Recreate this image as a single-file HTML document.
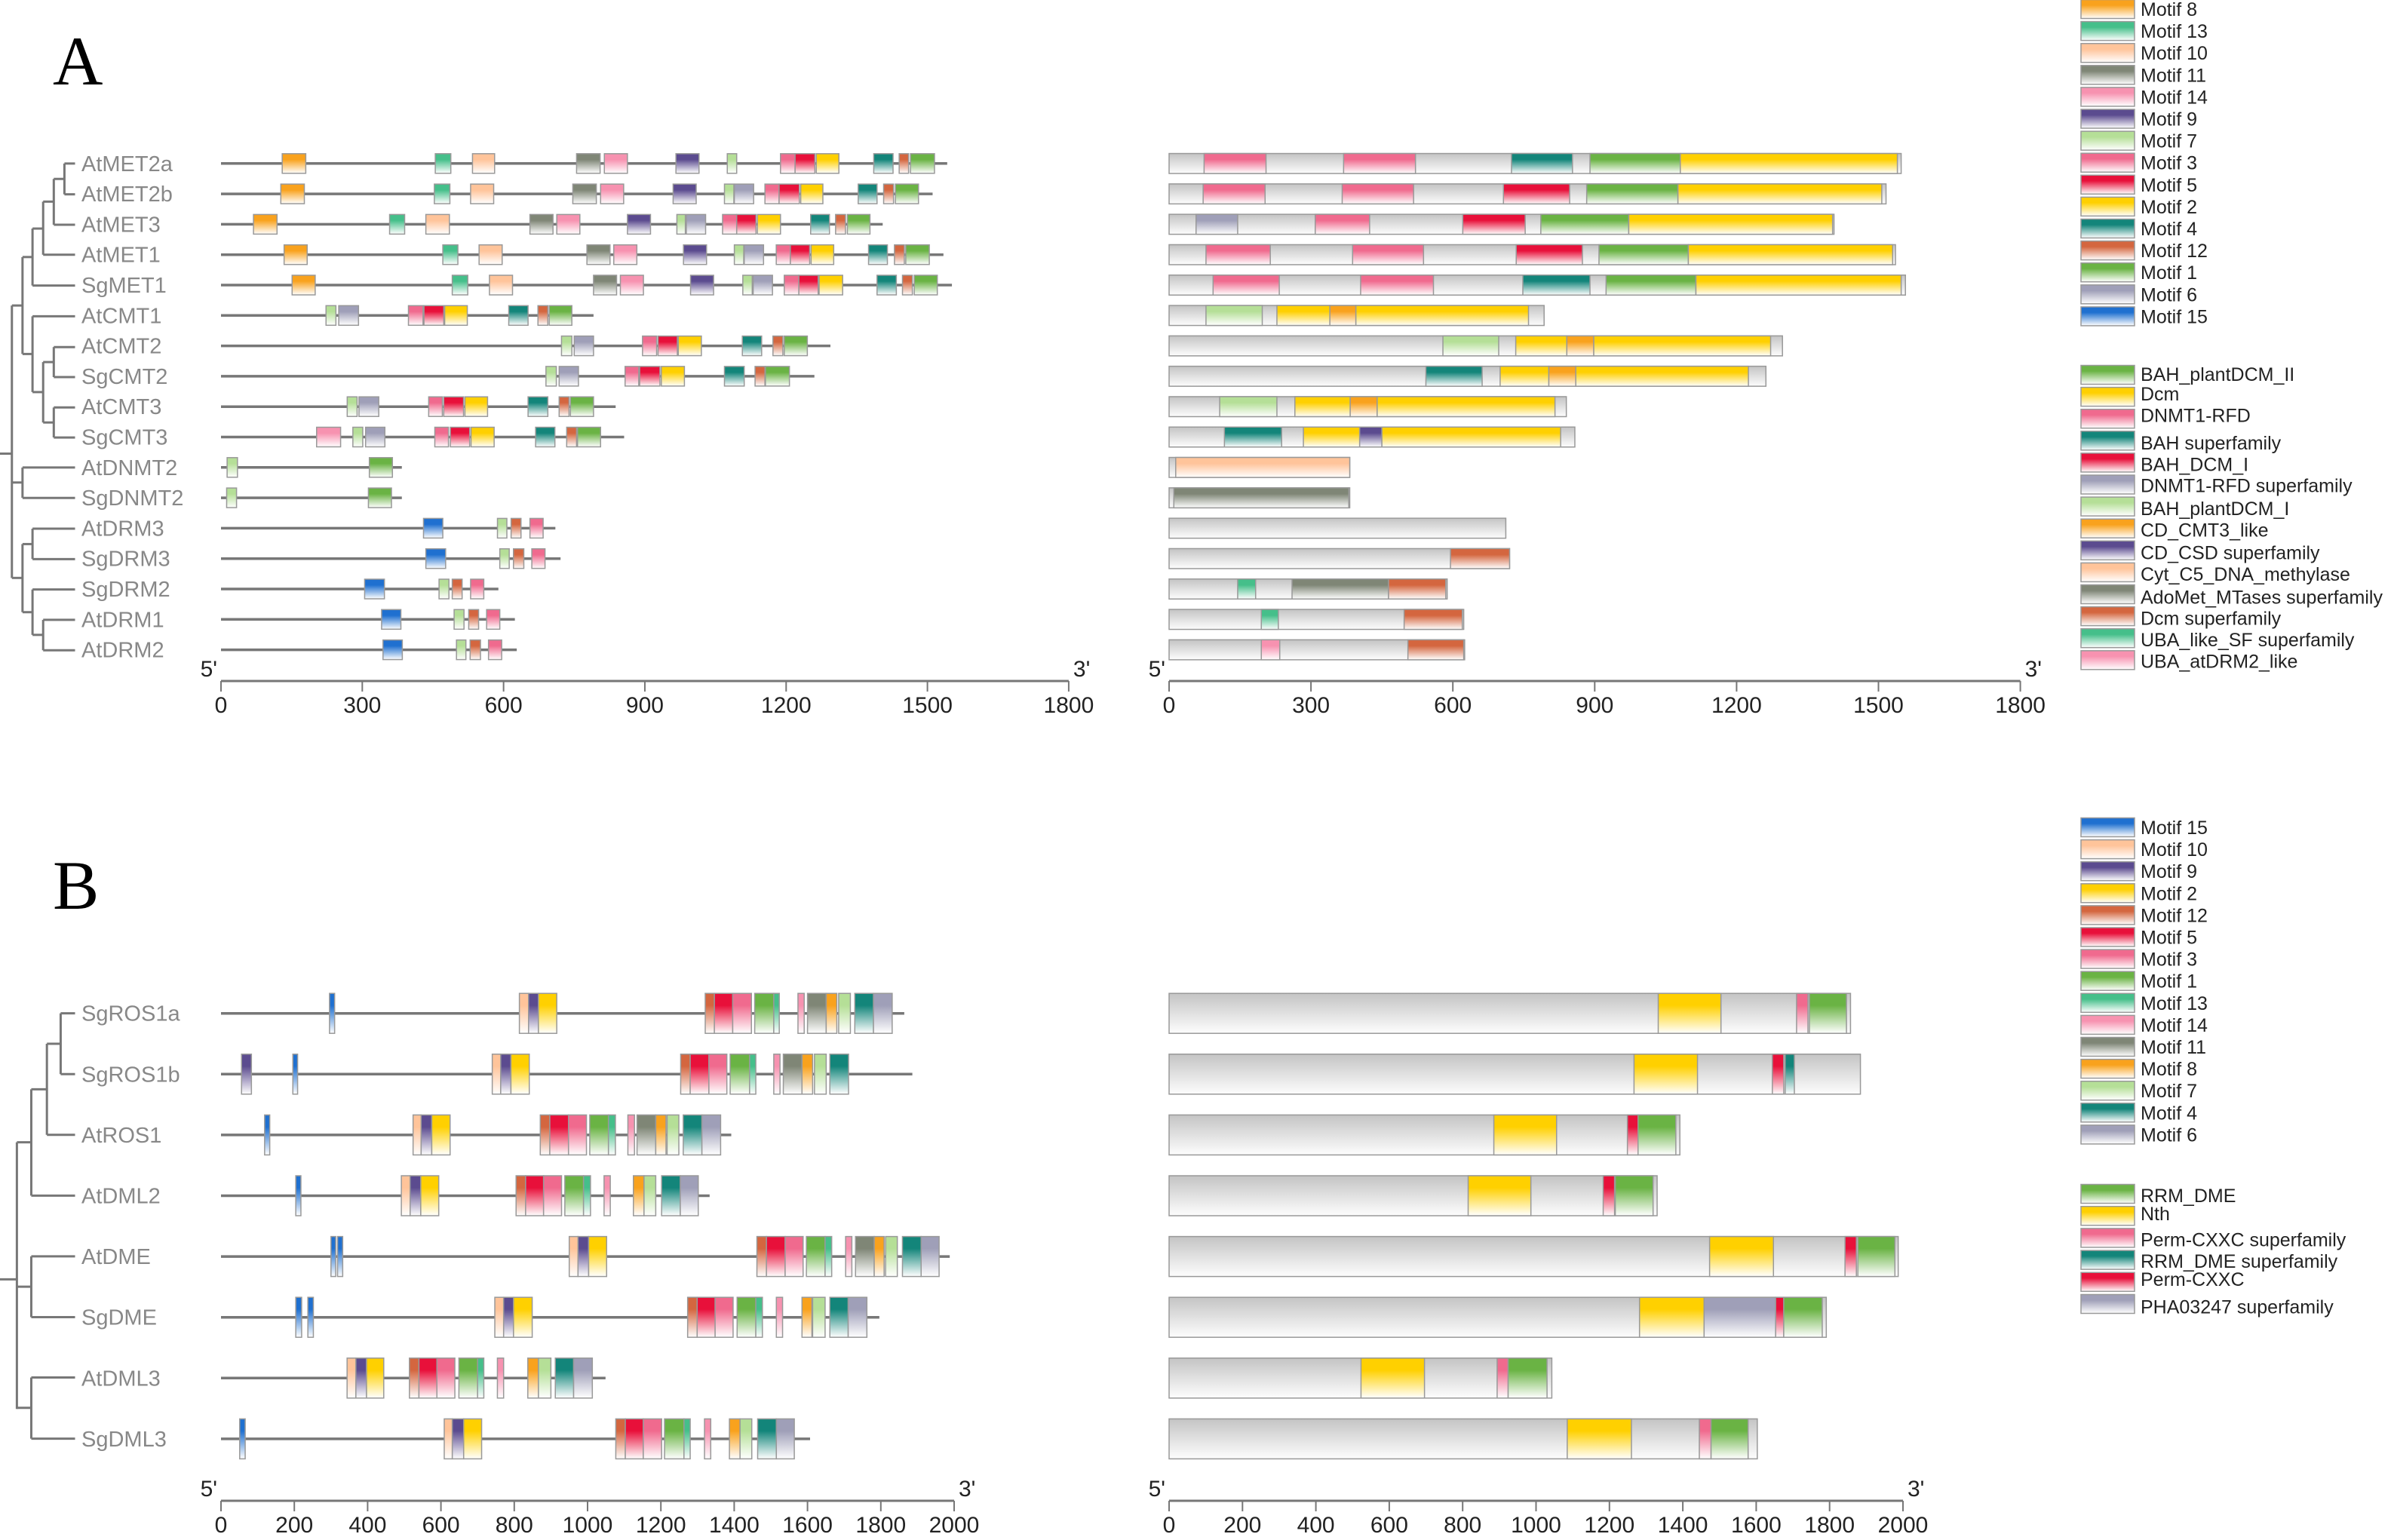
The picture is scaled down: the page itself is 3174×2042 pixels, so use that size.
<!DOCTYPE html>
<html><head><meta charset="utf-8"><style>
html,body{margin:0;padding:0;background:#fff;}
svg{display:block;}
text{font-family:"Liberation Sans",Arial,sans-serif;}
</style></head><body>
<svg id="fig" width="3174" height="2042" viewBox="0 0 3174 2042" xmlns="http://www.w3.org/2000/svg">
<defs id="defs"></defs>
<text x="70" y="112" font-size="92" fill="#000" style="font-family:'Liberation Serif',serif">A</text>
<text x="70" y="1205" font-size="92" fill="#000" style="font-family:'Liberation Serif',serif">B</text>
<g id="treeA" transform="translate(0,150) scale(0.8292,0.5102)" stroke="#777" stroke-width="3" fill="none"></g>
<g id="treeB" transform="translate(0,1270) scale(0.8292,0.4912)" stroke="#777" stroke-width="3" fill="none"></g>
<g id="main"></g>
</svg>
<script>
const motifColors = {1:'#6ab344',2:'#ffd000',3:'#f06a8e',4:'#13857a',5:'#e8103a',6:'#9f9fb8',7:'#b5df97',8:'#f9a21d',9:'#5b4b8f',10:'#ffc49a',11:'#7f8676',12:'#d4663f',13:'#45bf8a',14:'#f792b0',15:'#1f70d0'};
const domainColorsA = {'BAH_plantDCM_II':'#6ab344','Dcm':'#ffd000','DNMT1-RFD':'#f06a8e','BAH superfamily':'#13857a','BAH_DCM_I':'#e8103a','DNMT1-RFD superfamily':'#9f9fb8','BAH_plantDCM_I':'#b5df97','CD_CMT3_like':'#f9a21d','CD_CSD superfamily':'#5b4b8f','Cyt_C5_DNA_methylase':'#ffc49a','AdoMet_MTases superfamily':'#7f8676','Dcm superfamily':'#d4663f','UBA_like_SF superfamily':'#45bf8a','UBA_atDRM2_like':'#f792b0'};
const domainColorsB = {'RRM_DME':'#6ab344','Nth':'#ffd000','Perm-CXXC superfamily':'#f06a8e','RRM_DME superfamily':'#13857a','Perm-CXXC':'#e8103a','PHA03247 superfamily':'#9f9fb8'};

const genesA = ['AtMET2a','AtMET2b','AtMET3','AtMET1','SgMET1','AtCMT1','AtCMT2','SgCMT2','AtCMT3','SgCMT3','AtDNMT2','SgDNMT2','AtDRM3','SgDRM3','SgDRM2','AtDRM1','AtDRM2'];
const lengthsA = [1542,1511,1405,1534,1552,791,1294,1260,838,856,384,384,710,721,589,624,628];
const motifsA = [
 [[8,130,180],[13,455,488],[10,534,581],[11,755,805],[14,814,863],[9,966,1015],[7,1075,1095],[3,1188,1219],[5,1219,1261],[2,1264,1312],[4,1386,1427],[12,1440,1460],[1,1464,1515]],
 [[8,127,177],[13,453,486],[10,530,579],[11,747,797],[14,806,855],[9,960,1009],[7,1069,1089],[6,1090,1131],[3,1155,1185],[5,1185,1228],[2,1231,1278],[4,1353,1393],[12,1407,1428],[1,1432,1481]],
 [[8,69,119],[13,358,390],[10,435,485],[11,656,705],[14,713,762],[9,863,912],[7,968,986],[6,988,1029],[3,1065,1095],[5,1095,1136],[2,1139,1188],[4,1252,1292],[12,1305,1326],[1,1330,1378]],
 [[8,134,183],[13,471,503],[10,548,597],[11,777,826],[14,834,883],[9,982,1031],[7,1090,1110],[6,1111,1152],[3,1179,1209],[5,1209,1250],[2,1253,1301],[4,1375,1415],[12,1430,1451],[1,1454,1504]],
 [[8,151,200],[13,491,524],[10,570,619],[11,791,840],[14,848,897],[9,997,1046],[7,1108,1128],[6,1130,1171],[3,1196,1227],[5,1227,1268],[2,1270,1320],[4,1393,1434],[12,1447,1468],[1,1472,1521]],
 [[7,223,244],[6,250,292],[3,398,429],[5,431,473],[2,475,523],[4,611,652],[12,673,694],[1,697,745]],
 [[7,723,745],[6,750,791],[3,895,925],[5,928,969],[2,971,1020],[4,1107,1148],[12,1172,1193],[1,1196,1245]],
 [[7,690,712],[6,718,759],[3,858,887],[5,889,932],[2,935,984],[4,1069,1111],[12,1134,1155],[1,1156,1207]],
 [[7,268,289],[6,293,335],[3,441,470],[5,473,515],[2,518,566],[4,652,694],[12,718,739],[1,742,791]],
 [[14,203,254],[7,280,301],[6,307,348],[3,454,483],[5,487,528],[2,531,580],[4,668,709],[12,734,755],[1,757,806]],
 [[7,13,35],[1,315,364]],
 [[7,12,33],[1,313,362]],
 [[15,430,471],[7,587,607],[12,616,637],[3,656,684]],
 [[15,435,477],[7,592,612],[12,621,643],[3,660,688]],
 [[15,305,347],[7,463,484],[12,491,512],[3,530,558]],
 [[15,341,382],[7,495,516],[12,526,547],[3,564,592]],
 [[15,344,385],[7,500,520],[12,529,551],[3,568,596]]
];
const protLenA = [1548,1516,1406,1536,1557,793,1297,1262,840,858,382,382,712,720,588,623,625];
const domainsA = [
 [['DNMT1-RFD',74,205],['DNMT1-RFD',369,521],['BAH superfamily',724,853],['BAH_plantDCM_II',890,1081],['Dcm',1081,1540]],
 [['DNMT1-RFD',72,203],['DNMT1-RFD',366,517],['BAH_DCM_I',707,847],['BAH_plantDCM_II',883,1076],['Dcm',1076,1507]],
 [['DNMT1-RFD superfamily',57,145],['DNMT1-RFD',309,424],['BAH_DCM_I',621,753],['BAH_plantDCM_II',786,972],['Dcm',972,1403]],
 [['DNMT1-RFD',78,214],['DNMT1-RFD',388,538],['BAH_DCM_I',734,874],['BAH_plantDCM_II',909,1098],['Dcm',1098,1530]],
 [['DNMT1-RFD',93,233],['DNMT1-RFD',405,559],['BAH superfamily',748,890],['BAH_plantDCM_II',924,1114],['Dcm',1114,1548]],
 [['BAH_plantDCM_I',78,197],['Dcm',228,340],['CD_CMT3_like',340,395],['Dcm',395,760]],
 [['BAH_plantDCM_I',579,697],['Dcm',733,841],['CD_CMT3_like',841,898],['Dcm',898,1272]],
 [['BAH superfamily',543,662],['Dcm',700,803],['CD_CMT3_like',803,860],['Dcm',860,1225]],
 [['BAH_plantDCM_I',107,228],['Dcm',266,383],['CD_CMT3_like',383,440],['Dcm',440,816]],
 [['BAH superfamily',117,238],['Dcm',284,403],['CD_CSD superfamily',403,450],['Dcm',450,828]],
 [['Cyt_C5_DNA_methylase',14,382]],
 [['AdoMet_MTases superfamily',10,380]],
 [],
 [['Dcm superfamily',595,720]],
 [['UBA_like_SF superfamily',145,183],['AdoMet_MTases superfamily',260,464],['Dcm superfamily',464,585]],
 [['UBA_like_SF superfamily',195,231],['Dcm superfamily',497,620]],
 [['UBA_atDRM2_like',195,234],['Dcm superfamily',505,623]]
];

const genesB = ['SgROS1a','SgROS1b','AtROS1','AtDML2','AtDME','SgDME','AtDML3','SgDML3'];
const lengthsB = [1864,1886,1392,1333,1988,1796,1049,1607];
const motifsB = [
 [[15,296,310],[10,814,839],[9,839,866],[2,866,916],[12,1321,1346],[5,1346,1396],[3,1396,1447],[1,1456,1508],[13,1508,1523],[14,1574,1591],[11,1600,1651],[8,1651,1680],[7,1685,1717],[4,1729,1780],[6,1780,1831]],
 [[9,56,83],[15,196,209],[10,740,763],[9,763,791],[2,791,841],[12,1254,1280],[5,1280,1331],[3,1331,1380],[1,1389,1442],[13,1442,1459],[14,1508,1525],[11,1534,1585],[8,1585,1614],[7,1619,1651],[4,1661,1712]],
 [[15,119,133],[10,524,546],[9,546,575],[2,575,625],[12,871,897],[5,897,948],[3,948,997],[1,1006,1057],[13,1057,1076],[14,1110,1128],[11,1135,1186],[8,1186,1214],[7,1217,1249],[4,1261,1312],[6,1312,1363]],
 [[15,204,218],[10,492,516],[9,516,545],[2,545,594],[12,805,831],[5,831,880],[3,880,929],[1,938,989],[13,989,1008],[14,1045,1062],[8,1125,1154],[7,1154,1186],[4,1202,1253],[6,1253,1302]],
 [[15,300,313],[15,318,332],[10,950,974],[9,974,1003],[2,1003,1052],[12,1462,1488],[5,1488,1539],[3,1539,1588],[1,1597,1648],[13,1648,1666],[14,1704,1721],[11,1731,1782],[8,1782,1809],[7,1813,1845],[4,1859,1910],[6,1910,1959]],
 [[15,204,220],[15,237,252],[10,747,771],[9,771,798],[2,798,849],[12,1273,1299],[5,1299,1348],[3,1348,1397],[1,1408,1459],[13,1459,1477],[14,1515,1532],[8,1585,1612],[7,1614,1648],[4,1661,1711],[6,1711,1762]],
 [[10,344,368],[9,368,397],[2,397,444],[12,514,540],[5,540,589],[3,589,638],[1,649,700],[13,700,717],[14,754,771],[8,837,866],[7,866,900],[4,912,962],[6,962,1013]],
 [[15,51,66],[10,609,631],[9,631,662],[2,662,711],[12,1077,1103],[5,1103,1152],[3,1152,1202],[1,1210,1263],[13,1263,1280],[14,1319,1336],[8,1387,1416],[7,1416,1448],[4,1464,1515],[6,1515,1564]]
];
const protLenB = [1857,1884,1392,1330,1987,1791,1043,1603];
const domainsB = [
 [['Nth',1333,1504],['Perm-CXXC superfamily',1710,1741],['RRM_DME',1745,1846]],
 [['Nth',1267,1440],['Perm-CXXC',1644,1675],['RRM_DME superfamily',1679,1704]],
 [['Nth',885,1056],['Perm-CXXC',1249,1278],['RRM_DME',1278,1381]],
 [['Nth',815,986],['Perm-CXXC',1183,1214],['RRM_DME',1216,1319]],
 [['Nth',1473,1647],['Perm-CXXC',1842,1873],['RRM_DME',1877,1978]],
 [['Nth',1282,1458],['PHA03247 superfamily',1458,1653],['Perm-CXXC',1653,1675],['RRM_DME',1675,1780]],
 [['Nth',523,696],['Perm-CXXC superfamily',894,924],['RRM_DME',924,1030]],
 [['Nth',1085,1260],['Perm-CXXC superfamily',1445,1477],['RRM_DME',1477,1578]]
];
const ticksA = [0,300,600,900,1200,1500,1800];
const ticksB = [0,200,400,600,800,1000,1200,1400,1600,1800,2000];
const legendMotifsA = [8,13,10,11,14,9,7,3,5,2,4,12,1,6,15];
const legendDomainsA = ['BAH_plantDCM_II','Dcm','DNMT1-RFD','BAH superfamily','BAH_DCM_I','DNMT1-RFD superfamily','BAH_plantDCM_I','CD_CMT3_like','CD_CSD superfamily','Cyt_C5_DNA_methylase','AdoMet_MTases superfamily','Dcm superfamily','UBA_like_SF superfamily','UBA_atDRM2_like'];
const legendMotifsB = [15,10,9,2,12,5,3,1,13,14,11,8,7,4,6];
const legendDomainsB = ['RRM_DME','Nth','Perm-CXXC superfamily','RRM_DME superfamily','Perm-CXXC','PHA03247 superfamily'];

const NS='http://www.w3.org/2000/svg';
const svg=document.getElementById('main');
const defs=document.getElementById('defs');
function mk(tag,attrs,parent){const e=document.createElementNS(NS,tag);for(const k in attrs)e.setAttribute(k,attrs[k]);(parent||svg).appendChild(e);return e;}
const gradIds={};
function grad(color){
  if(gradIds[color])return gradIds[color];
  const id='g'+Object.keys(gradIds).length;
  const lg=mk('linearGradient',{id:id,x1:0,y1:0,x2:0,y2:1},defs);
  mk('stop',{offset:'0',  'stop-color':color},lg);
  mk('stop',{offset:'0.3','stop-color':color},lg);
  mk('stop',{offset:'1','stop-color':'#ffffff'},lg);
  gradIds[color]='url(#'+id+')';return gradIds[color];
}
const greyGrad=(function(){const lg=mk('linearGradient',{id:'grey',x1:0,y1:0,x2:0,y2:1},defs);
 mk('stop',{offset:'0','stop-color':'#c4c4c4'},lg);mk('stop',{offset:'1','stop-color':'#fdfdfd'},lg);return 'url(#grey)';})();

function box(x1,x2,y,h,fill,name){
  const r=mk('rect',{x:x1,y:y-h/2,width:Math.max(1,x2-x1),height:h,fill:fill,stroke:'#999','stroke-width':1.5});
  
  
  return r;
}
function axis(x0,k,maxv,ticks,y,name){
  const g=mk('g',{});
  
  
  mk('line',{x1:x0,x2:x0+k*maxv,y1:y,y2:y,stroke:'#777','stroke-width':3},g);
  ticks.forEach(t=>{const x=x0+k*t;mk('line',{x1:x,x2:x,y1:y,y2:y+14,stroke:'#777','stroke-width':2},g);
    const tx=mk('text',{x:x,y:y+42,'font-size':30,'text-anchor':'middle',fill:'#222'},g);tx.textContent=t;
    
    });
  const a=mk('text',{x:x0-5,y:y-6,'font-size':30,'text-anchor':'end',fill:'#222'},g);a.textContent="5'";
  const b=mk('text',{x:x0+k*maxv+6,y:y-6,'font-size':30,fill:'#222'},g);b.textContent="3'";
}
function panel(genes,lens,motifs,plens,domains,domColors,row0,dy,hL,hR,xL0,kL,xR0,kR){
  genes.forEach((gname,i)=>{
    const y=row0+i*dy;
    const t=mk('text',{x:108,y:y+10,'font-size':29,fill:'#888'});t.textContent=gname;
    
    
    const ln=mk('line',{x1:xL0,x2:xL0+kL*lens[i],y1:y,y2:y,stroke:'#777','stroke-width':3.5});
    
    
    motifs[i].forEach(m=>box(xL0+kL*m[1],xL0+kL*m[2],y,hL,grad(motifColors[m[0]]),'motif-'+m[0]));
    box(xR0,xR0+kR*plens[i],y,hR,greyGrad,'protein-bar-'+gname);
    domains[i].forEach(d=>box(xR0+kR*d[1],xR0+kR*d[2],y,hR,grad(domColors[d[0]]),'domain'));
  });
}
panel(genesA,lengthsA,motifsA,protLenA,domainsA,domainColorsA,216.8,40.3,26,26.5,293,0.6244,1550,0.627);
panel(genesB,lengthsB,motifsB,protLenB,domainsB,domainColorsB,1343.7,80.6,53,53,293,0.486,1550,0.4865);
axis(293,0.6244,1800,ticksA,903,'x-axis-a-left');
axis(1550,0.627,1800,ticksA,903,'x-axis-a-right');
axis(293,0.486,2000,ticksB,1990,'x-axis-b-left');
axis(1550,0.4865,2000,ticksB,1990,'x-axis-b-right');

function legendItem(y,color,label,ty){
  const g=mk('g',{});
  
  
  mk('rect',{x:2759,y:y-12.5,width:71,height:25,fill:grad(color),stroke:'#999','stroke-width':1.5},g);
  const t=mk('text',{x:2838,y:(ty===undefined?y:ty)+9,'font-size':25,fill:'#222'},g);t.textContent=label;
}
legendMotifsA.forEach((m,i)=>legendItem(12+i*29.1,motifColors[m],'Motif '+m));
const domTextA=[245,258,272,290,304,318,333,347,362,376,391,405,419,433];
legendDomainsA.forEach((d,i)=>legendItem(497+i*29.1,domainColorsA[d],d,domTextA[i]*2.024));
legendMotifsB.forEach((m,i)=>legendItem(1097+i*29.1,motifColors[m],'Motif '+m));
const domTextB=[783,795,812,826,838,856];
legendDomainsB.forEach((d,i)=>legendItem(1583+i*29.2,domainColorsB[d],d,domTextB[i]*2.024));

function tree(id,segs){const g=document.getElementById(id);
  segs.forEach(s=>mk('line',{x1:s[0],y1:s[1],x2:s[2],y2:s[3],'vector-effect':'non-scaling-stroke'},g));}
tree('treeA',[
 [103,131,103,211],[103,131,120,131],[103,211,120,211],
 [86,171,86,290],[86,171,103,171],[86,290,120,290],
 [69,230,69,368],[69,230,86,230],[69,368,120,368],
 [52,300,52,448],[52,300,69,300],[52,448,120,448],
 [86,608,86,686],[86,608,120,608],[86,686,120,686],
 [86,765,86,843],[86,765,120,765],[86,843,120,843],
 [69,647,69,804],[69,647,86,647],[69,804,86,804],
 [52,528,52,725],[52,528,120,528],[52,725,69,725],
 [36,374,36,626],[36,374,52,374],[36,626,52,626],
 [36,921,36,1000],[36,921,120,921],[36,1000,120,1000],
 [52,1080,52,1159],[52,1080,120,1080],[52,1159,120,1159],
 [69,1317,69,1396],[69,1317,120,1317],[69,1396,120,1396],
 [52,1238,52,1356],[52,1238,120,1238],[52,1356,69,1356],
 [36,1120,36,1297],[36,1120,52,1120],[36,1297,52,1297],
 [19,500,19,1208],[19,500,36,500],[19,960,36,960],[19,1208,36,1208],[0,885,19,885]
]);
tree('treeB',[
 [97,150,97,314],[97,150,120,150],[97,314,120,314],
 [75,232,75,478],[75,232,97,232],[75,478,120,478],
 [50,355,50,642],[50,355,75,355],[50,642,120,642],
 [50,806,50,970],[50,806,120,806],[50,970,120,970],
 [50,1133,50,1298],[50,1133,120,1133],[50,1298,120,1298],
 [27,498,27,1218],[27,498,50,498],[27,888,50,888],[27,1215,50,1215],[0,868,27,868]
]);
</script>
</body></html>
